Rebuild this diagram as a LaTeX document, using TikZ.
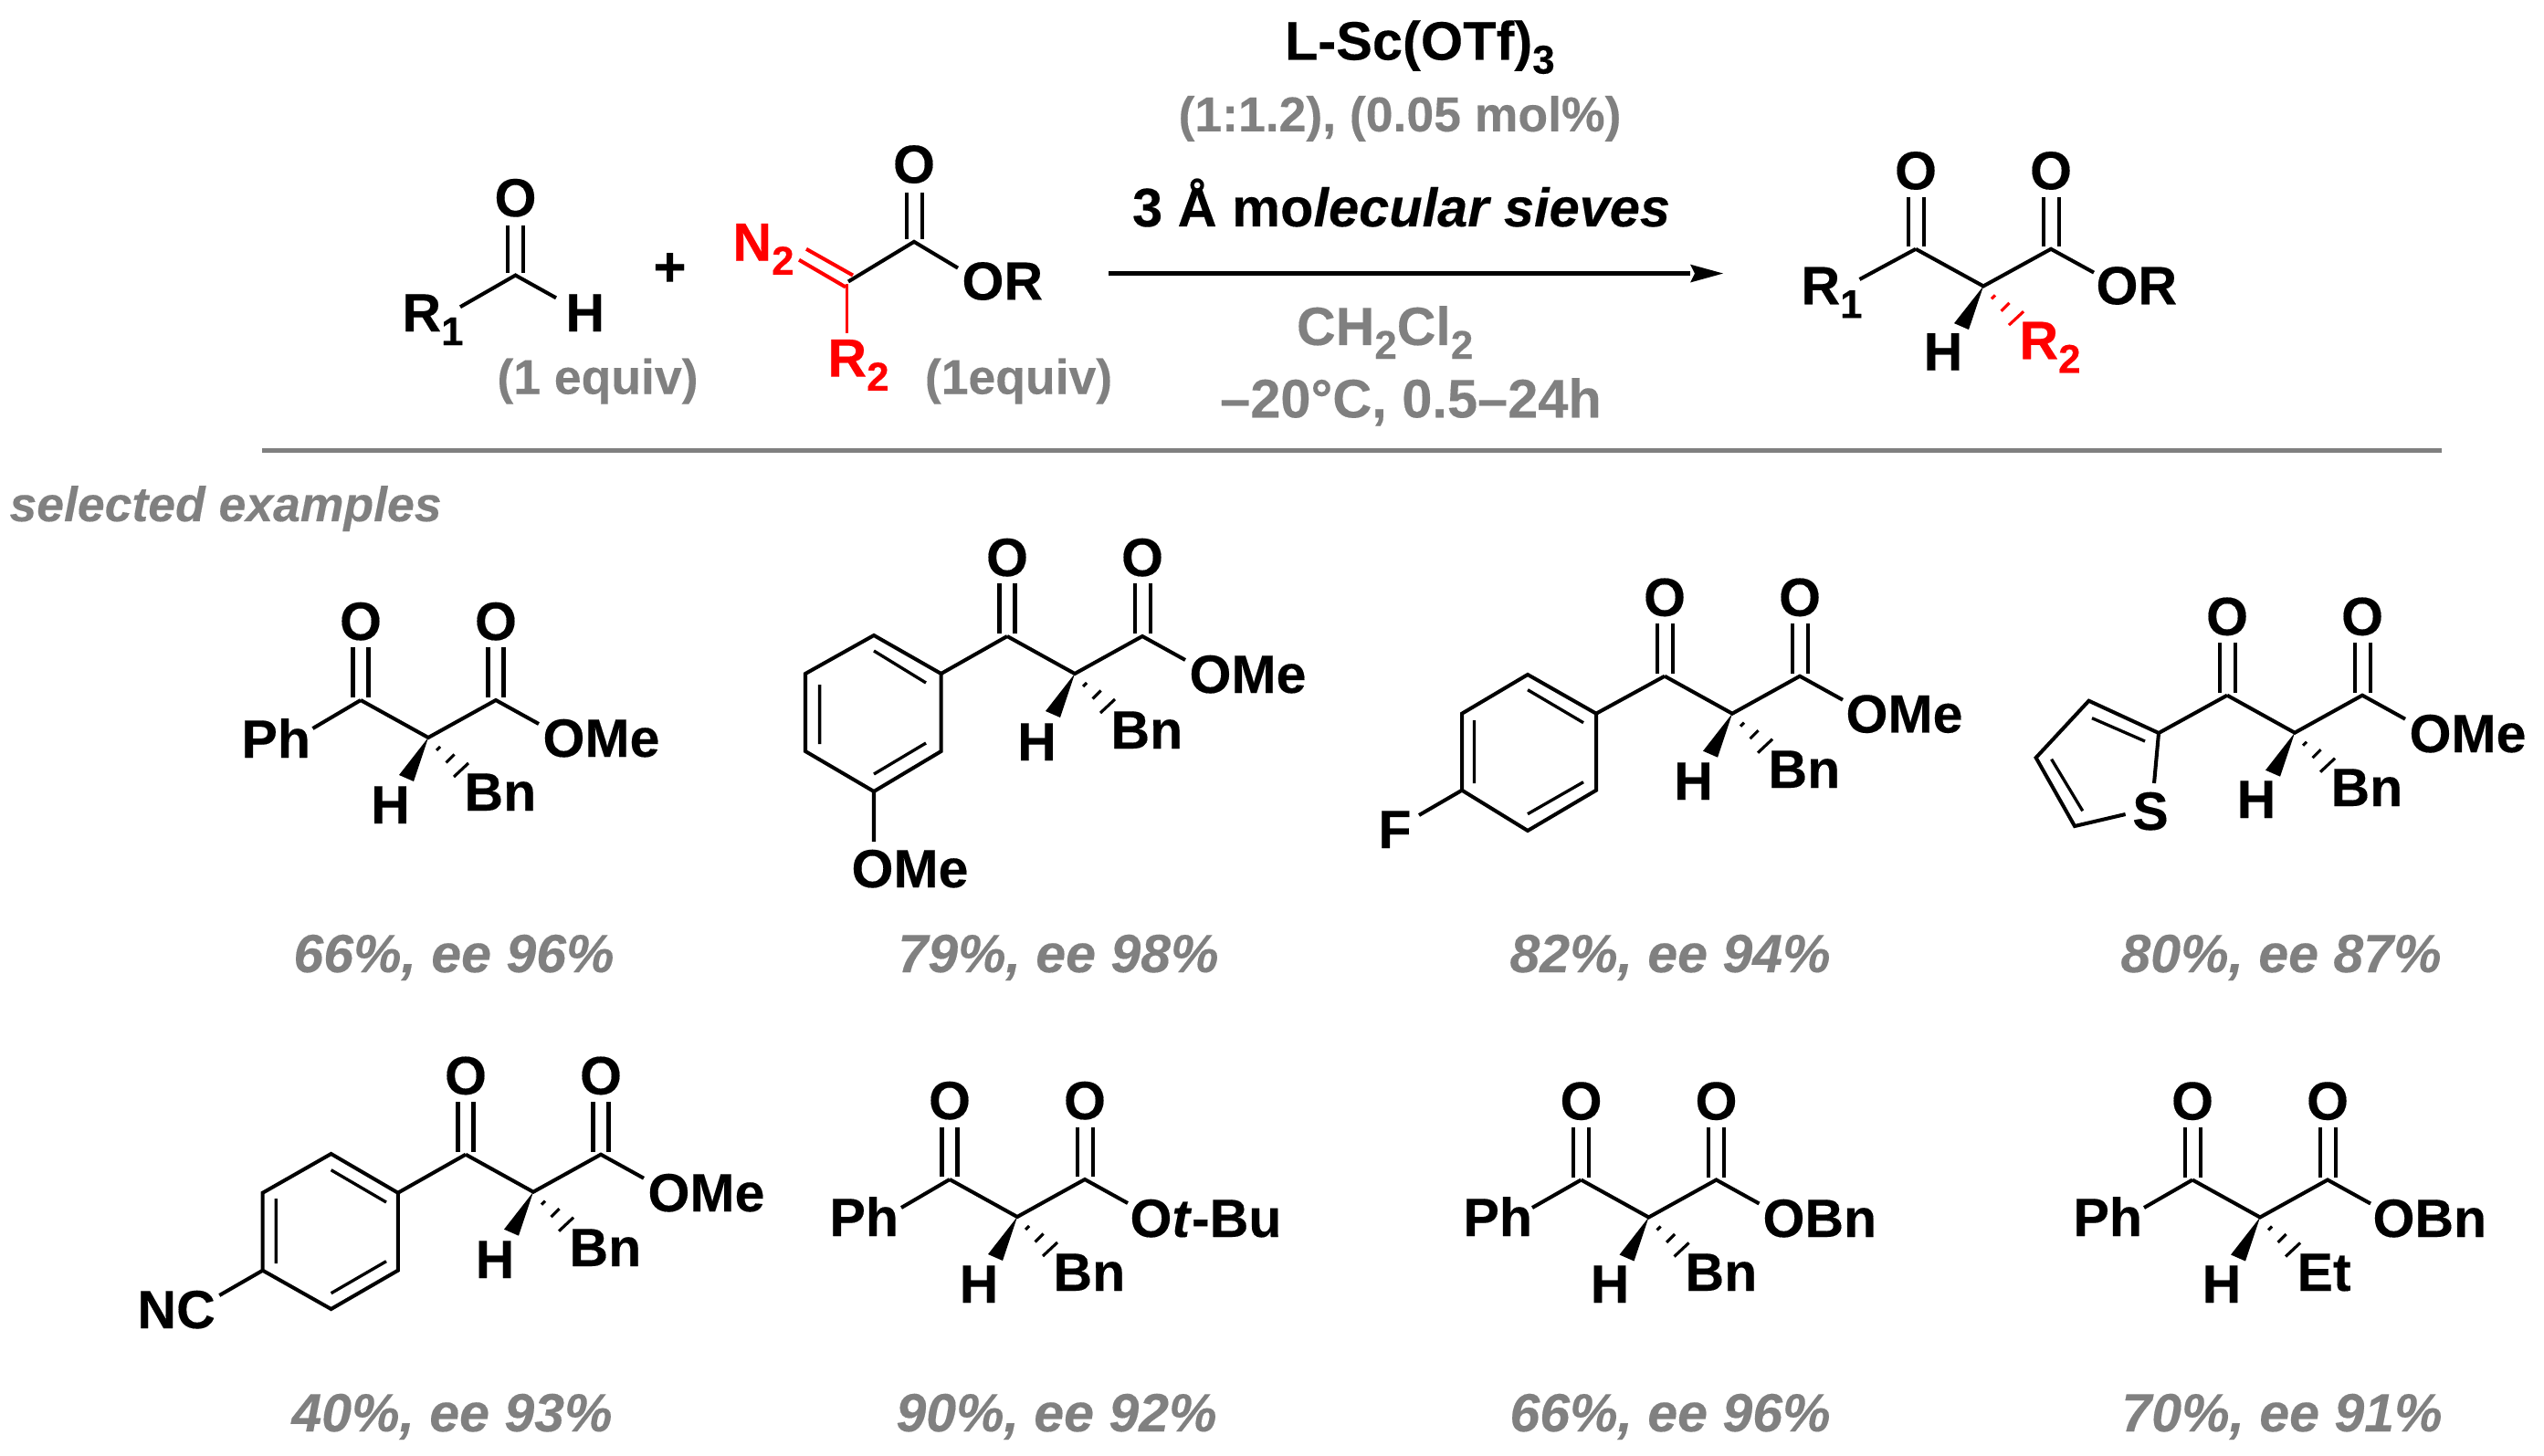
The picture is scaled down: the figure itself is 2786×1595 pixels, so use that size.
\documentclass[tikz,border=0pt]{standalone}
\usepackage{fontspec}
\setmainfont{Liberation Sans}[BoldFeatures={FakeBold=0.25},BoldItalicFeatures={FakeBold=0.25}]
\definecolor{gr}{HTML}{808080}
\definecolor{rd}{HTML}{FF0000}
% 1 px of the reference = 0.01cm = 0.28453pt
\newcommand\fpx[1]{\fontsize{\dimexpr#1\dimexpr0.28453pt\relax\relax}{\dimexpr#1\dimexpr0.32pt\relax\relax}\selectfont}
\newcommand\sbs[1]{\raisebox{-4.3pt}{\fpx{44}#1}}
\tikzset{
 x=0.01cm,y=-0.01cm,
 bond/.style={line width=1.15pt,line join=miter,line cap=butt},
 thinb/.style={line width=0.95pt},
 labc/.style={inner sep=0pt,outer sep=0pt,anchor=base,font=\bfseries\fpx{59}},
 lab/.style={inner sep=0pt,outer sep=0pt,anchor=base west,xshift=-0.015cm,font=\bfseries\fpx{59}},
 grayt/.style={labc,text=gr,font=\bfseries\fpx{53.5}},
 res/.style={labc,text=gr,font=\bfseries\itshape\fpx{59}},
}
% id, Sx, Sy, hash colour
\newcommand\skel[4]{%
 \begin{scope}[shift={(#2,#3)}]
 \coordinate (#1S) at (0,0);
 \coordinate (#1K) at (-74,-41);
 \coordinate (#1E) at (74,-41);
 \coordinate (#1Oe) at (121,-15);
 \coordinate (#1KOa) at (-82.5,-98.5);\coordinate (#1KOb) at (-82.5,-44);
 \coordinate (#1KOc) at (-65.5,-98.5);\coordinate (#1KOd) at (-65.5,-44);
 \coordinate (#1EOa) at (65.5,-98.5);\coordinate (#1EOb) at (65.5,-44);
 \coordinate (#1EOc) at (82.5,-98.5);\coordinate (#1EOd) at (82.5,-44);
 \coordinate (#1W1) at (-32,41);\coordinate (#1W2) at (-16,48);
 \node[labc] (#1O1) at (-74,-107) {O};
 \node[labc] (#1O2) at (74,-107) {O};
 \draw[bond] (#1K)--(#1S)--(#1E)--(#1Oe);
 \draw[bond] (#1KOa)--(#1KOb) (#1KOc)--(#1KOd) (#1EOa)--(#1EOb) (#1EOc)--(#1EOd);
 \fill (#1S)--(#1W1)--(#1W2)--cycle;
 \draw[#4,line width=0.9pt] (9,14)--(13,10) (19.5,27.5)--(28.5,18.5) (28,43)--(44,28);
 \end{scope}}
\begin{document}
\begin{tikzpicture}
\useasboundingbox (0,0) rectangle (2786,1595);
\begin{scope}[yscale=0.992]
% ---------- scheme: aldehyde
\coordinate (aC) at (564.5,304);
\coordinate (aR) at (504,339);
\coordinate (aH) at (609,329);
\node[labc] (aO) at (564.5,239) {O};
\node[lab] (aRl) at (442,366) {R\sbs{1}};
\node[lab] (aHl) at (621,366) {H};
\draw[bond] (aR)--(aC)--(aH);
\draw[bond] (556,249)--(556,301) (573,249)--(573,301);
\node[labc] (plus) at (733.5,316) {\fpx{62}+};
\node[grayt] (eq1) at (654.5,435) {(1 equiv)};
% diazo ester
\coordinate (dC) at (929,311);
\coordinate (dE) at (1001,267);
\coordinate (dOe) at (1049,296);
\coordinate (dR) at (927.5,368);
\node[labc] (dO) at (1001,202) {O};
\node[lab,text=rd] (dN) at (804,288) {N\sbs{2}};
\node[lab,text=rd] (dRl) at (908,416) {R\sbs{2}};
\node[lab] (dORl) at (1055,331) {OR};
\draw[bond] (dC)--(dE)--(dOe);
\draw[bond] (993,213)--(993,264) (1010,213)--(1010,264);
\draw[bond,rd] (883,275)--(934,304) (875,287)--(926,317);
\draw[bond,rd,line width=1pt] (dR)--(927.5,314);
\node[grayt] (eq2) at (1115.5,435) {(1equiv)};
% reagents
\node[lab,font=\bfseries\fpx{59.5}] (t1) at (1408.5,66) {L-Sc(OTf)\sbs{3}};
\node[grayt] (t2) at (1533,145) {(1:1.2), (0.05 mol\%)};
\node[lab,font=\bfseries\fpx{59.5}] (t3) at (1241.5,250) {3 Å mo\textit{lecular sieves}};
\node[lab,text=gr] (t4) at (1421.5,381) {CH\sbs{2}Cl\sbs{2}};
\node[labc,text=gr,font=\bfseries\fpx{59.5}] (t5) at (1545,461) {–20°C, 0.5–24h};
\coordinate (arS) at (1214,302);
\coordinate (arE) at (1851,302);
\coordinate (arT) at (1887,302);
\draw[line width=1.4pt] (arS)--(arE);
\fill (arT)--(1851,292)--(1856,302)--(1851,312)--cycle;
% product
\skel{p}{2172}{316}{rd}
\coordinate (pRb) at (2036.5,308.5);
\draw[bond] (pK)--(pRb);
\node[lab] (pR) at (1974,336) {R\sbs{1}};
\node[lab] (pOR) at (2297,336) {OR};
\node[labc] (pH) at (2128,409) {H};
\node[lab,text=rd] (pR2) at (2213,396.5) {R\sbs{2}};
\end{scope}
% rule
\coordinate (ruleA) at (287,493.5);
\coordinate (ruleB) at (2674,493.5);
\draw[gr,line width=1.42pt] (ruleA)--(ruleB);
\node[lab,text=gr,font=\bfseries\itshape\fpx{53.5}] (sel) at (12,571) {selected examples};
% ---------- mol 1
\skel{a1}{469}{808}{black}
\coordinate (a1Pb) at (342.5,798);
\draw[bond] (a1K)--(a1Pb);
\node[lab] (a1Ph) at (266,830) {Ph};
\node[lab] (a1Me) at (596,829) {OMe};
\node[labc] (a1H) at (427.5,902) {H};
\node[lab] (a1Bn) at (510,888) {Bn};
\node[res] (r1) at (497,1065) {66\%, ee 96\%};
% ---------- mol 2
\skel{b}{1177}{738}{black}
\foreach \n/\x/\y in {1/1030.6/738,2/957/696,3/882/738,4/882/823,5/957/867,6/1030.6/823}{\coordinate (bR\n) at (\x,\y);}
\coordinate (bMeb) at (957,922);
\draw[bond] (bR1)--(bR2)--(bR3)--(bR4)--(bR5)--(bR6)--cycle;
\draw[bond] (bK)--(bR1) (bR5)--(bMeb);
\draw[thinb] (957,713)--(1014,748) (897.6,750)--(897.6,815) (957,848)--(1014,814);
\node[lab] (bMe1) at (1304,759) {OMe};
\node[lab] (bMe2) at (934,972) {OMe};
\node[labc] (bH) at (1135.5,833) {H};
\node[lab] (bBn) at (1218,820) {Bn};
\node[res] (r2) at (1159,1065) {79\%, ee 98\%};
% ---------- mol 3
\skel{c}{1897}{781.7}{black}
\foreach \n/\x/\y in {1/1748/781.7,2/1673/739,3/1601/781.7,4/1601/865.7,5/1673/910,6/1748/865.7}{\coordinate (cR\n) at (\x,\y);}
\coordinate (cFb) at (1554,893);
\draw[bond] (cR1)--(cR2)--(cR3)--(cR4)--(cR5)--(cR6)--cycle;
\draw[bond] (cK)--(cR1) (cR4)--(cFb);
\draw[thinb] (1673,755.7)--(1734,791.7) (1614.4,789)--(1614.4,858) (1673,891.7)--(1734,856.7);
\node[lab] (cMe) at (2023,802.5) {OMe};
\node[lab] (cF) at (1511,929) {F};
\node[labc] (cH) at (1854.5,876) {H};
\node[lab] (cBn) at (1938,863) {Bn};
\node[res] (r3) at (1829,1065) {82\%, ee 94\%};
% ---------- mol 4
\skel{d}{2513}{802.7}{black}
\foreach \n/\x/\y in {1/2364/803,2/2287.5/767.7,3/2229.6/830,4/2272/905}{\coordinate (dR\n) at (\x,\y);}
\coordinate (dSa) at (2359,858);
\coordinate (dSb) at (2327.6,892);
\node[labc] (dS) at (2355,909) {S};
\draw[bond] (dK)--(dR1)--(dR2)--(dR3)--(dR4)--(dSb) (dR1)--(dSa);
\draw[thinb] (2291,786.7)--(2349,812) (2246.6,831.7)--(2280.7,888.3);
\node[lab] (dMe) at (2640,824) {OMe};
\node[labc] (dHH) at (2471,896) {H};
\node[lab] (dBn) at (2554,883) {Bn};
\node[res] (r4) at (2498,1065) {80\%, ee 87\%};
% ---------- mol 5
\skel{e}{584}{1305.7}{black}
\foreach \n/\x/\y in {1/435.8/1306.7,2/362.6/1264,3/287.7/1306.7,4/287.7/1391.7,5/362.6/1434,6/435.8/1391.7}{\coordinate (eR\n) at (\x,\y);}
\coordinate (eNb) at (240.3,1419);
\draw[bond] (eR1)--(eR2)--(eR3)--(eR4)--(eR5)--(eR6)--cycle;
\draw[bond] (eK)--(eR1) (eR4)--(eNb);
\draw[thinb] (362.6,1281.7)--(423,1317) (302.3,1313)--(302.3,1384) (362.6,1416.7)--(423,1381.7);
\node[lab] (eMe) at (711,1327) {OMe};
\node[lab] (eNC) at (152,1455) {NC};
\node[labc] (eH) at (542,1400) {H};
\node[lab] (eBn) at (625,1387) {Bn};
\node[res] (r5) at (495,1568) {40\%, ee 93\%};
% ---------- mol 6
\skel{f}{1114}{1333}{black}
\coordinate (fPb) at (987,1323);
\draw[bond] (fK)--(fPb);
\node[lab] (fPh) at (910,1354) {Ph};
\node[lab] (fOt) at (1239,1355) {O\textit{t}-Bu};
\node[labc] (fH) at (1072,1427) {H};
\node[lab] (fBn) at (1155,1414) {Bn};
\node[res] (r6) at (1157,1568) {90\%, ee 92\%};
% ---------- mol 7
\skel{g}{1805.5}{1333.5}{black}
\coordinate (gPb) at (1678,1323);
\draw[bond] (gK)--(gPb);
\node[lab] (gPh) at (1604,1354) {Ph};
\node[lab] (gOB) at (1932,1355) {OBn};
\node[labc] (gH) at (1763,1427) {H};
\node[lab] (gBn) at (1847,1414) {Bn};
\node[res] (r7) at (1829,1568) {66\%, ee 96\%};
% ---------- mol 8
\skel{h}{2475}{1333.5}{black}
\coordinate (hPb) at (2348,1323);
\draw[bond] (hK)--(hPb);
\node[lab] (hPh) at (2272,1354) {Ph};
\node[lab] (hOB) at (2600,1355) {OBn};
\node[labc] (hH) at (2433,1427) {H};
\node[lab] (hEt) at (2517,1414) {Et};
\node[res] (r8) at (2499,1568) {70\%, ee 91\%};
\end{tikzpicture}
\end{document}
